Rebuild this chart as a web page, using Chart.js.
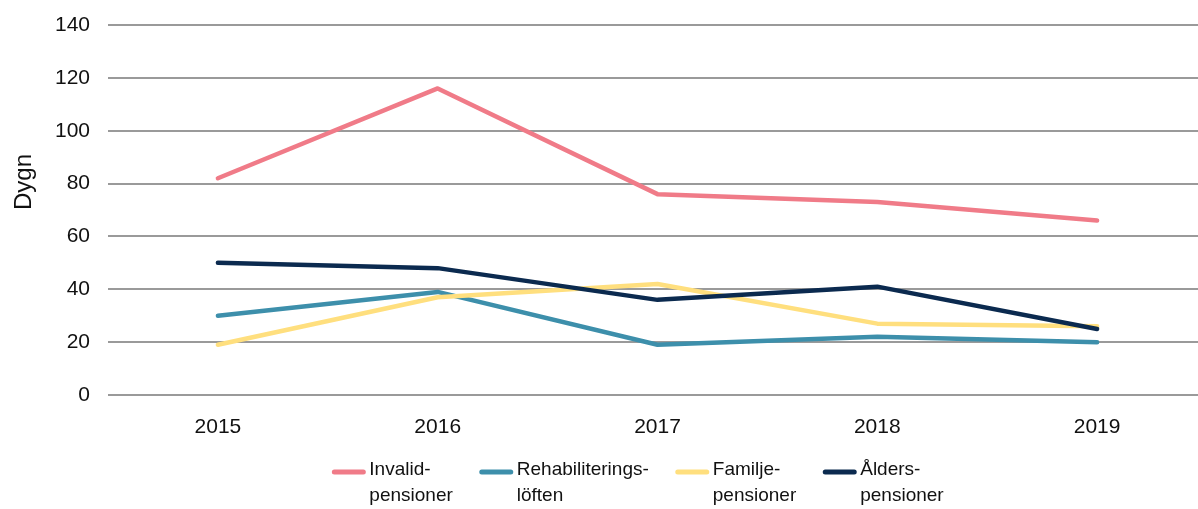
<!DOCTYPE html>
<html><head><meta charset="utf-8">
<script src="https://cdn.jsdelivr.net/npm/chart.js@4.4.0/dist/chart.umd.min.js"></script>
<style>html,body{margin:0;padding:0;background:#fff;overflow:hidden;} #wrap{width:1198px;height:509px;position:relative;overflow:hidden;}</style>
</head><body><div id="wrap"><canvas id="c" width="1207" height="509" style="width:1207px;height:509px"></canvas></div>
<script>
const categories = ['2015', '2016', '2017', '2018', '2019'];
const invalidpensioner = [82, 116, 76, 73, 66];
const rehabiliteringsloften = [30, 39, 19, 22, 20];
const familjepensioner = [19, 37, 42, 27, 26];
const alderspensioner = [50, 48, 36, 41, 25];
const seriesLabels = [['Invalid-', 'pensioner'], ['Rehabiliterings-', 'löften'], ['Familje-', 'pensioner'], ['Ålders-', 'pensioner']];
const yAxisTitle = 'Dygn';
const yMin = 0, yMax = 140, yStep = 20;

const FONT = '"Liberation Sans", Arial, sans-serif';
const colors = ['#F07B88', '#3D8FAB', '#FFDF7E', '#0B2A4F'];
const seriesValues = [invalidpensioner, rehabiliteringsloften, familjepensioner, alderspensioner];

const legendPlugin = {
  id: 'multiLegend',
  afterDraw(chart) {
    const ctx = chart.ctx;
    ctx.save();
    // y-axis title
    ctx.save();
    ctx.translate(24, 182);
    ctx.rotate(-Math.PI / 2);
    ctx.font = '24px ' + FONT;
    ctx.fillStyle = '#111';
    ctx.textAlign = 'center';
    ctx.textBaseline = 'middle';
    ctx.fillText(yAxisTitle, 0, 0);
    ctx.restore();
    // legend
    ctx.font = '19px ' + FONT;
    const lineLen = 33, gapText = 4, gapItem = 27;
    const widths = seriesLabels.map(l => Math.max(...l.map(t => ctx.measureText(t).width)));
    const total = widths.reduce((a, w) => a + lineLen + gapText + w, 0) + gapItem * (widths.length - 1);
    let x = 638 - total / 2;
    const y1 = 470, lh = 26;
    seriesLabels.forEach((lines, i) => {
      ctx.strokeStyle = colors[i];
      ctx.lineWidth = 5;
      ctx.lineCap = 'round';
      ctx.beginPath();
      ctx.moveTo(x + 2, y1 + 2);
      ctx.lineTo(x + lineLen - 2, y1 + 2);
      ctx.stroke();
      ctx.fillStyle = '#111';
      ctx.textBaseline = 'middle';
      ctx.textAlign = 'left';
      lines.forEach((t, k) => ctx.fillText(t, x + lineLen + gapText, y1 + k * lh));
      x += lineLen + gapText + widths[i] + gapItem;
    });
    ctx.restore();
  }
};

new Chart(document.getElementById('c'), {
  type: 'line',
  data: {
    labels: categories,
    datasets: seriesValues.map((v, i) => ({
      label: seriesLabels[i].join(''),
      data: v,
      borderColor: colors[i],
      backgroundColor: colors[i],
      borderWidth: 4.5,
      pointRadius: 0,
      pointHoverRadius: 0,
      tension: 0,
      borderJoinStyle: 'round',
      borderCapStyle: 'round',
      order: 3 - i
    }))
  },
  options: {
    responsive: false,
    animation: false,
    devicePixelRatio: 1,
    layout: { padding: { top: 25, right: 0, bottom: 0, left: 0 } },
    plugins: { legend: { display: false }, tooltip: { enabled: false } },
    scales: {
      x: {
        offset: true,
        grid: { display: false, drawTicks: false },
        border: { display: false },
        ticks: { color: '#111', font: { family: FONT, size: 21 }, padding: 20, maxRotation: 0 },
        afterFit(s) { s.height = 114; s.paddingRight = 0; s.paddingLeft = 0; }
      },
      y: {
        min: yMin, max: yMax,
        grid: { color: '#9A9A9A', lineWidth: 2, drawTicks: false },
        border: { display: false },
        ticks: { stepSize: yStep, color: '#111', font: { family: FONT, size: 21 }, padding: 18 },
        title: { display: false },
        afterFit(s) { s.width = 108; s.paddingTop = 0; s.paddingBottom = 0; }
      }
    }
  },
  plugins: [legendPlugin]
});
</script></body></html>
